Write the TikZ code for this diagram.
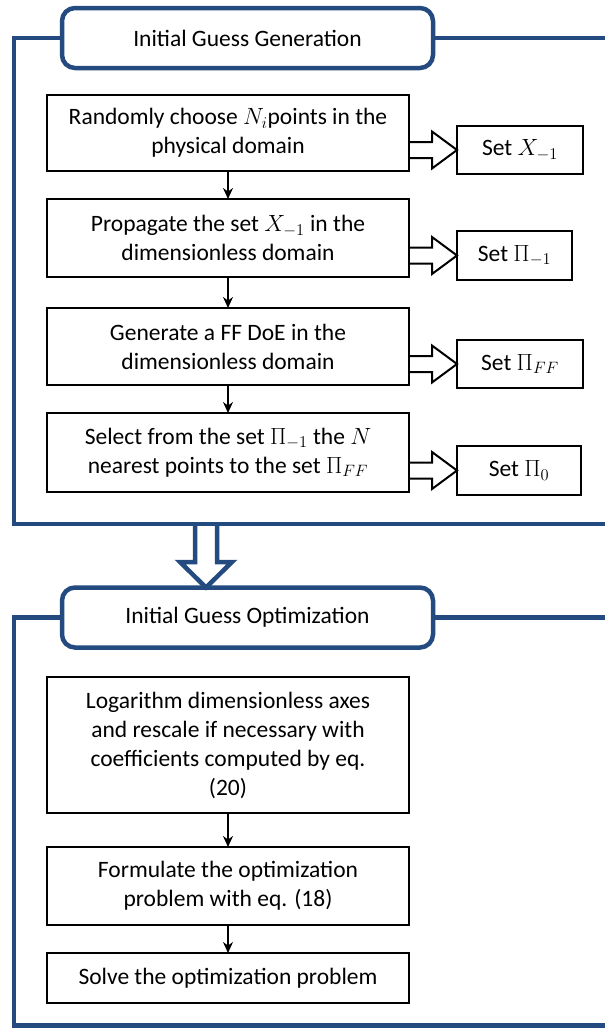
\RequirePackage{fix-cm}
\documentclass[tikz,border=0pt]{standalone}
\usepackage{fontspec}
\setmainfont{Carlito}
\usepackage{tikz}
\usetikzlibrary{arrows.meta,positioning,calc}
\definecolor{frameblue}{RGB}{36,75,128}

\begin{document}
\begin{tikzpicture}[x=1pt,y=-1pt,
	txt/.style={font=\fontsize{23.5}{29}\selectfont},
	stepbox/.style={txt,draw,line width=2pt,align=center,minimum width=362pt,inner sep=0pt,outer sep=0pt},
	setbox/.style={txt,draw,line width=2pt,minimum height=48pt,inner sep=0pt,outer sep=0pt},
	header/.style={txt,draw=frameblue,line width=4.5pt,rounded corners=13pt,minimum width=371pt,minimum height=60pt,outer sep=0pt},
	framewire/.style={draw=frameblue,line width=4.5pt},
	myarrow/.style={-{Stealth[length=11pt,width=10pt]},line width=1.6pt},
	fatarrow/.style={draw,line width=2pt,fill=white,line join=miter},
	bigarrow/.style={draw=frameblue,line width=4.5pt,fill=white,line join=miter}]
	\useasboundingbox (0,0) rectangle (605,1028);
	\clip (0,0) rectangle (605,1028);
	% first stage
	\draw
		(247.5,38) node[header](hA){Initial Guess Generation}
		(228,133) node[stepbox,minimum height=76pt](b1){Randomly choose $N_i$points in the\\physical domain}
		(228,238) node[stepbox,minimum height=78pt](b2){Propagate the set $X_{-1}$ in the\\dimensionless domain}
		(228,346.5) node[stepbox,minimum height=77pt](b3){Generate a FF DoE in the\\dimensionless domain}
		(228,452.5) node[stepbox,minimum height=79pt](b4){Select from the set $\Pi_{-1}$ the $N$\\nearest points to the set $\Pi_{FF}$}
		(520,150) node[setbox,minimum width=126pt](sX){Set $X_{-1}$}
		(514.5,255.5) node[setbox,minimum width=115pt,minimum height=49pt](sP1){Set $\Pi_{-1}$}
		(520,364) node[setbox,minimum width=126pt](sPFF){Set $\Pi_{FF}$}
		(519,470.5) node[setbox,minimum width=124pt,minimum height=49pt](sP0){Set $\Pi_0$};
	% second stage
	\draw
		(247.5,617.5) node[header](hB){Initial Guess Optimization}
		(228,745) node[stepbox,minimum height=136pt](b5){Logarithm dimensionless axes\\and rescale if necessary with\\coefficients computed by eq.\\(20)}
		(228,886) node[stepbox,minimum height=78pt](b6){Formulate the optimization\\problem with eq. (18)}
		(228,978) node[stepbox,minimum height=50pt](b7){Solve the optimization problem};
	\coordinate (cornerA) at (14,524);
	\coordinate (endA) at (607,524);
	\coordinate (cornerB) at (14,1025.5);
	\coordinate (endB) at (607,1025.5);
	\coordinate (arrowtop) at (206,524);
	\draw[bigarrow] (arrowtop) ++(-11,0) -- ++(0,38) -- ++(-15,0) -- (arrowtop |- hB.north) -- ++(26,-25.5) -- ++(-15,0) -- ++(0,-38);
	\draw[framewire] (hA.west) -| (cornerA) -- (endA);
	\draw[framewire] (hA.east) -- (hA.east -| endA);
	\draw[framewire] (hB.west) -| (cornerB) -- (endB);
	\draw[framewire] (hB.east) -- (hB.east -| endB);
	\foreach \a/\b in {b1/b2,b2/b3,b3/b4,b5/b6,b6/b7}
		\draw[myarrow] (\a) -- (\b);
	\foreach \src/\dst in {b1/sX,b2/sP1,b3/sPFF,b4/sP0}
		\draw[fatarrow] (\src.east |- \dst.west) ++(1,-8) -- ++(22,0) -- ++(0,-10.5) -- (\dst.west) -- ++(-25,18.5) -- ++(0,-10.5) -- ++(-22,0);
\end{tikzpicture}
\end{document}
